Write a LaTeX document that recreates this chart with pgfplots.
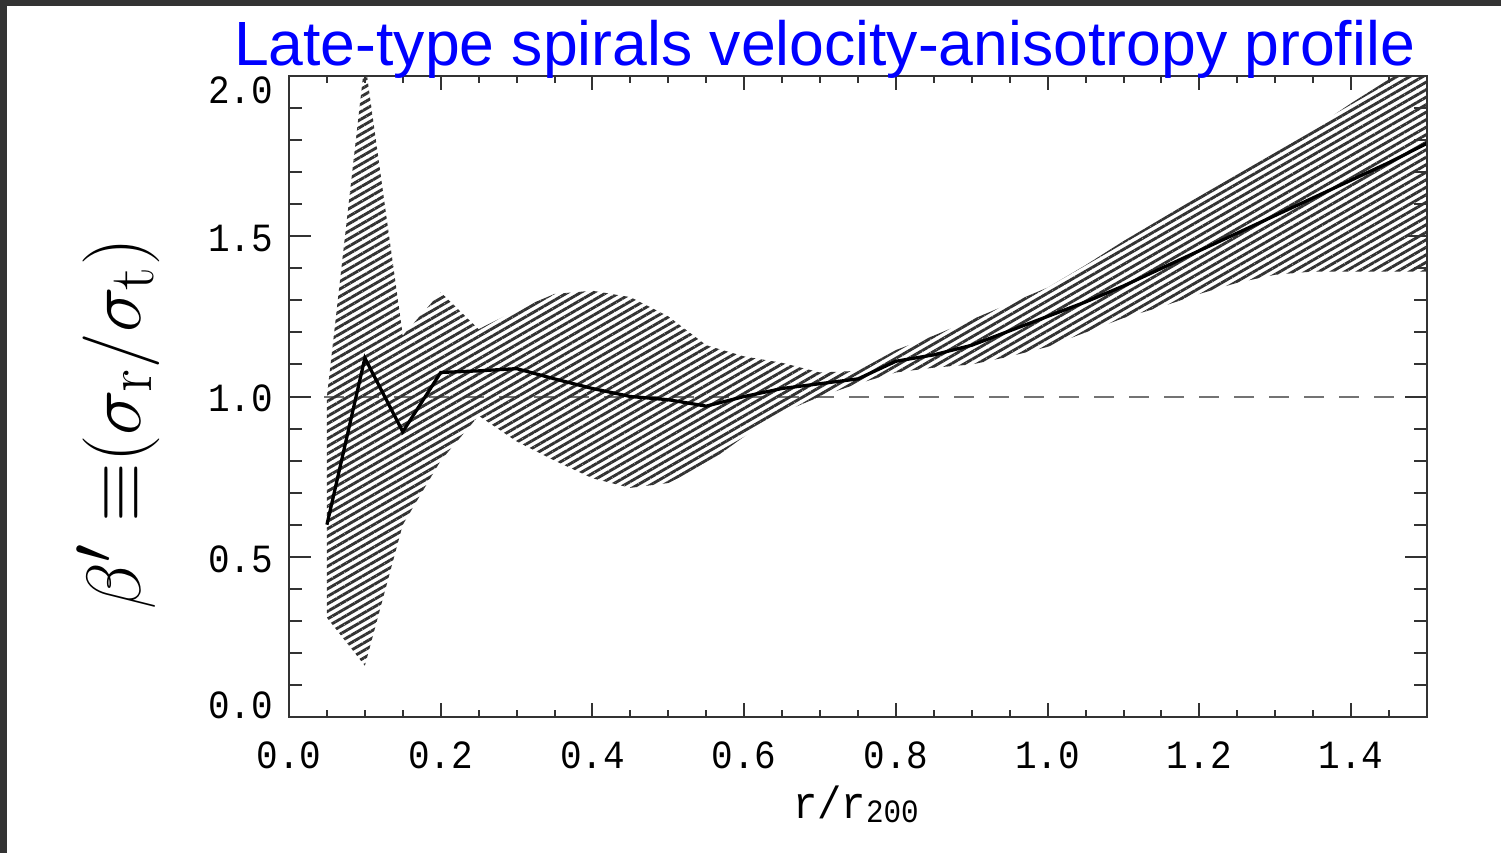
\documentclass[border=0pt]{standalone}
\usepackage{pgfplots}
\pgfplotsset{compat=1.18}
\usepackage{pgfplotstable}
\usetikzlibrary{patterns.meta}
\usepackage{fontspec}
\newfontfamily\idl[FakeStretch=0.9]{Liberation Mono}
\newfontfamily\titlefont{Liberation Sans}

% mean profile
\pgfplotstableread{
x     y
0.05  0.60
0.10  1.12
0.15  0.89
0.20  1.075
0.25  1.08
0.30  1.087
0.35  1.055
0.40  1.025
0.45  1.00
0.50  0.99
0.55  0.97
0.60  1.00
0.65  1.025
0.70  1.04
0.75  1.055
0.80  1.11
0.85  1.13
0.90  1.16
0.95  1.205
1.00  1.25
1.05  1.295
1.10  1.345
1.15  1.40
1.20  1.455
1.25  1.51
1.30  1.565
1.35  1.62
1.40  1.675
1.45  1.73
1.50  1.79
}\profile

% outline of the hatched band: upper edge left to right, lower edge back
\pgfplotstableread{
x     y
0.05  1.00
0.10  2.05
0.15  1.19
0.20  1.325
0.25  1.21
0.30  1.27
0.35  1.32
0.40  1.33
0.45  1.31
0.50  1.25
0.55  1.16
0.60  1.125
0.65  1.105
0.70  1.075
0.75  1.08
0.80  1.145
0.85  1.19
0.90  1.24
0.95  1.29
1.00  1.34
1.05  1.41
1.10  1.485
1.15  1.555
1.20  1.625
1.25  1.695
1.30  1.765
1.35  1.835
1.40  1.915
1.45  1.99
1.50  2.07
1.50  1.39
1.45  1.39
1.40  1.39
1.35  1.39
1.30  1.38
1.25  1.355
1.20  1.32
1.15  1.28
1.10  1.245
1.05  1.20
1.00  1.155
0.95  1.125
0.90  1.10
0.85  1.09
0.80  1.075
0.75  1.04
0.70  1.00
0.65  0.95
0.60  0.875
0.55  0.79
0.50  0.73
0.45  0.715
0.40  0.745
0.35  0.80
0.30  0.86
0.25  0.94
0.20  0.80
0.15  0.60
0.10  0.16
0.05  0.31
}\band

\begin{document}
\begin{tikzpicture}
\useasboundingbox (0,0) rectangle (600.4pt,341.2pt);
\fill[black!80] (0,0) rectangle (2.8pt,341.2pt);
\fill[black!80] (0,338.8pt) rectangle (600.4pt,341.2pt);

\pgfplotsset{
    idlbox/.style={
        at={(115.6pt,54.4pt)}, anchor=south west,
        scale only axis, width=455.2pt, height=256.4pt,
        xmin=0, xmax=1.5, ymin=0, ymax=2,
        tick align=inside,
        axis line style={black!80, line width=1pt},
        tick style={black!80, line width=0.8pt},
        tick label style={
            font=\idl\fontsize{16}{18}\selectfont,
            /pgf/number format/.cd,
                fixed,
                fixed zerofill,
                precision=1,
                assume math mode=true,
            /tikz/.cd
        },
    }
}

% data + x ticks
\begin{axis}[
    idlbox,
    xtick={0,0.2,0.4,0.6,0.8,1.0,1.2,1.4},
    minor xtick={0.05,0.1,0.15,0.25,0.3,0.35,0.45,0.5,0.55,0.65,0.7,0.75,0.85,0.9,0.95,1.05,1.1,1.15,1.25,1.3,1.35,1.45},
    ytick=\empty,
    major tick length=5.6pt, minor tick length=2.8pt,
    xticklabel style={yshift=-6.5pt},
]
\addplot [black!55, line width=0.8pt, dash pattern=on 8pt off 6pt] coordinates {(0,1) (1.5,1)};
\addplot [pattern={Lines[angle=30, distance=2.6pt, line width=1.15pt]}, pattern color=black!80, draw=none]
    table [x=x, y=y] {\band} -- cycle;
\addplot [black, line width=1.3pt] table [x=x, y=y] {\profile};
\end{axis}

% y ticks, longer as in the original; labels set where the original has them
\begin{axis}[
    idlbox,
    xtick=\empty,
    ytick={0,0.5,1.0,1.5,2.0},
    yticklabels={\raisebox{-0.4pt}{0.0}, \raisebox{-6.4pt}{0.5}, \raisebox{-6pt}{1.0},
                 \raisebox{-6pt}{1.5}, \raisebox{-10.8pt}{2.0}},
    minor ytick={0.1,0.2,0.3,0.4,0.6,0.7,0.8,0.9,1.1,1.2,1.3,1.4,1.6,1.7,1.8,1.9},
    major tick length=8.8pt, minor tick length=5.2pt,
    yticklabel style={anchor=base east, xshift=-2.8pt},
]
\addplot [draw=none] coordinates {(0,0) (1.5,2)};
\end{axis}

\node[anchor=base west, inner sep=0, text=blue, font=\titlefont\fontsize{25}{30}\selectfont]
    at (93.4pt,315.2pt) {Late-type spirals velocity-anisotropy profile};
\node[rotate=90, scale=1.235, inner sep=0, font=\fontsize{24.88}{28}\selectfont]
    at (47.2pt,171.6pt) {$\beta'\;{\equiv}(\sigma_{\mathrm r}/\sigma_{\mathrm t})$};
\node[anchor=base, inner sep=0] at (342.4pt,14pt)
    {\idl\fontsize{18}{20}\selectfont r/r\raisebox{-1.6pt}{\fontsize{13}{15}\selectfont 200}};
\end{tikzpicture}
\end{document}
